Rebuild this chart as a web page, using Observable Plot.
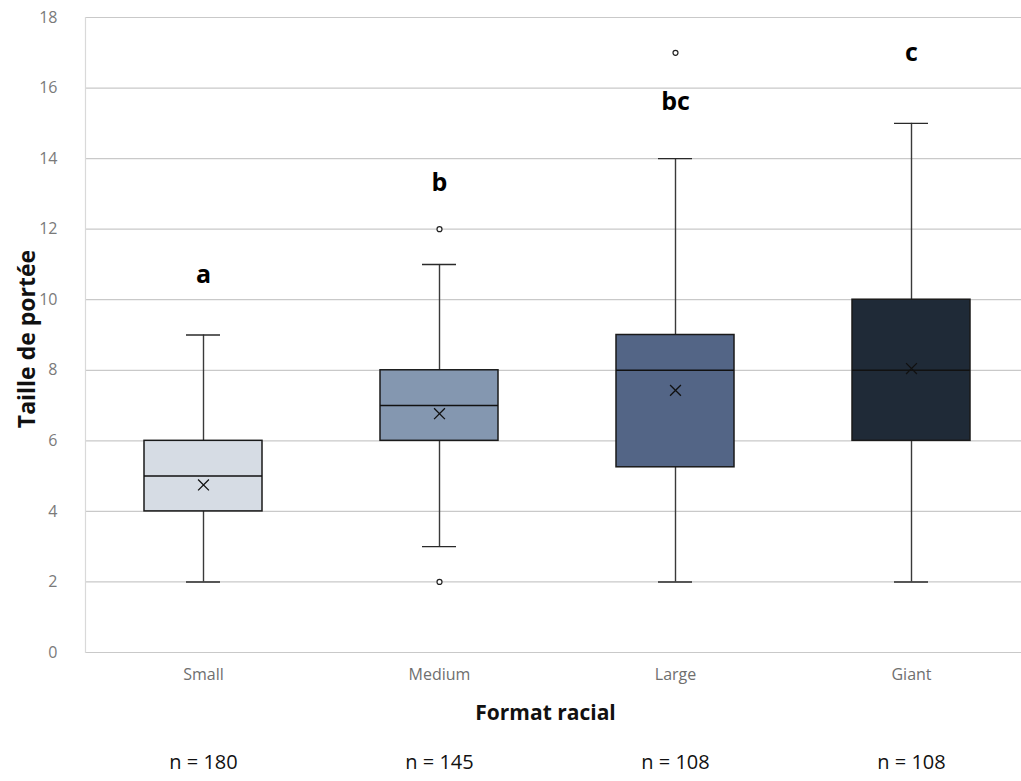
<!DOCTYPE html>
<html>
<head>
<meta charset="utf-8">
<script src="https://cdn.jsdelivr.net/npm/d3@7"></script>
<script src="https://cdn.jsdelivr.net/npm/@observablehq/plot@0.6"></script>
<style>
  html, body { margin: 0; padding: 0; background: #fff; }
  #chart svg { display: block; }
</style>
</head>
<body>
<div id="chart"></div>
<script>
const categories = ["Small", "Medium", "Large", "Giant"];
const mins    = [2, 3, 2, 2];
const q1s     = [4, 6, 5.25, 6];
const medians = [5, 7, 8, 8];
const q3s     = [6, 8, 9, 10];
const maxs    = [9, 11, 14, 15];
const means   = [4.75, 6.77, 7.43, 8.05];
const outlierCats = ["Medium", "Medium", "Large"];
const outlierVals = [12, 2, 17];
const letters = ["a", "b", "bc", "c"];
const letterY = [10.7, 13.3, 15.6, 17.0];
const counts  = [180, 145, 108, 108];
const fills   = ["#D6DCE4", "#8497B0", "#536586", "#1F2A37"];
const yTicks  = [0, 2, 4, 6, 8, 10, 12, 14, 16, 18];

const rows = categories.map((c, i) => ({
  cat: c, min: mins[i], q1: q1s[i], med: medians[i], q3: q3s[i], max: maxs[i],
  mean: means[i], letter: letters[i], ly: letterY[i], n: "n = " + counts[i]
}));
const outliers = outlierCats.map((c, i) => ({cat: c, v: outlierVals[i]}));

const chart = Plot.plot({
  width: 1021,
  height: 781,
  marginLeft: 85,
  marginRight: 0,
  marginTop: 17,
  marginBottom: 129,
  style: {fontFamily: "'Open Sans', 'Noto Sans', sans-serif", background: "#fff"},
  x: {type: "band", domain: categories, range: [85, 1029], paddingInner: 0.5, paddingOuter: 0.25, label: null},
  y: {domain: [0, 18], label: null},
  color: {domain: categories, range: fills},
  marks: [
    Plot.gridY(yTicks, {stroke: "#c9c9c9", strokeOpacity: 1, strokeWidth: 1.2}),
    Plot.frame({anchor: "left", stroke: "#d9d9d9", strokeWidth: 1.2}),
    Plot.axisY({ticks: yTicks, tickSize: 0, tickPadding: 28, label: null, color: "#7a7a7a", fontSize: 16}),
    Plot.axisX({tickSize: 0, tickPadding: 16, label: null, color: "#6f6f6f", fontSize: 16}),
    Plot.ruleX(rows, {x: "cat", y1: "min", y2: "q1", stroke: "#3a3a3a", strokeWidth: 1.4}),
    Plot.ruleX(rows, {x: "cat", y1: "q3", y2: "max", stroke: "#3a3a3a", strokeWidth: 1.4}),
    Plot.tickY(rows, {x: "cat", y: "min", stroke: "#2a2a2a", strokeWidth: 1.4, inset: 42}),
    Plot.tickY(rows, {x: "cat", y: "max", stroke: "#2a2a2a", strokeWidth: 1.4, inset: 42}),
    Plot.barY(rows, {x: "cat", y1: "q1", y2: "q3", fill: "cat", stroke: "#1a1a1a", strokeWidth: 1.5}),
    Plot.tickY(rows, {x: "cat", y: "med", stroke: "#111", strokeWidth: 1.5}),
    Plot.dot(rows, {x: "cat", y: "mean", symbol: "times", r: 5, stroke: "#111", strokeWidth: 1.3}),
    Plot.dot(outliers, {x: "cat", y: "v", r: 2.5, stroke: "#222", fill: "#fff", strokeWidth: 1.2}),
    Plot.text(rows, {x: "cat", y: "ly", text: "letter", fontSize: 25, fontWeight: "bold", fill: "#000"}),
    Plot.text(["Format racial"], {frameAnchor: "bottom", dy: 67, dx: -8, fontSize: 21, fontWeight: "bold", fill: "#111"}),
    Plot.text(rows, {x: "cat", frameAnchor: "bottom", dy: 116, text: "n", fontSize: 20, fill: "#111"}),
    Plot.text(["Taille de portée"], {frameAnchor: "left", textAnchor: "middle", dx: -58, dy: 4, rotate: -90, fontSize: 23, fontWeight: "bold", fill: "#111"})
  ]
});
document.getElementById("chart").appendChild(chart);
</script>
</body>
</html>
